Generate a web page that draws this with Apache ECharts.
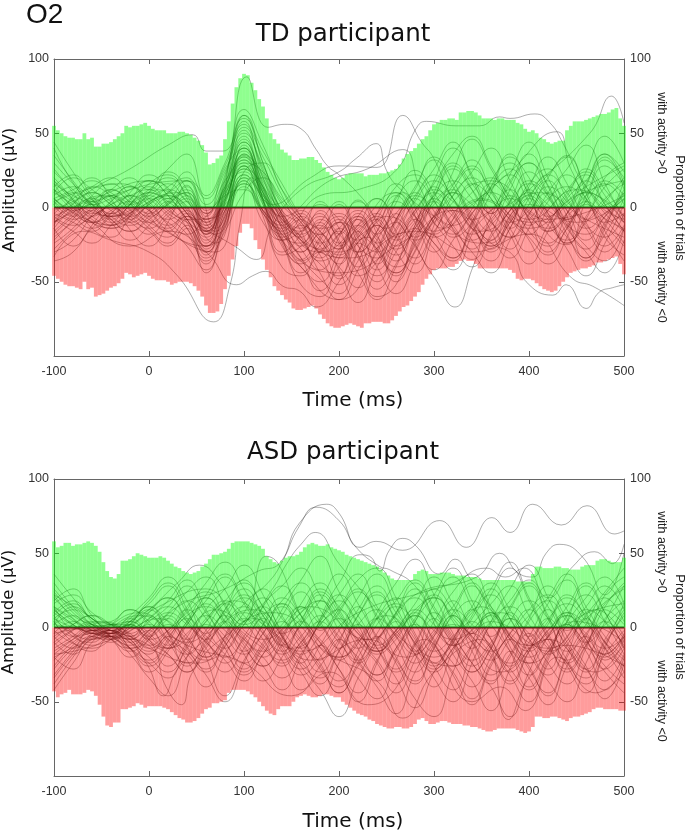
<!DOCTYPE html>
<html>
<head>
<meta charset="utf-8">
<style>
    html, body { margin: 0; padding: 0; background: #fff; }
    #main { width: 685px; height: 833px; }
</style>
</head>
<body>
<div id="main"></div>
<script src="https://cdn.jsdelivr.net/npm/echarts@6/dist/echarts.min.js"></script>
<script>
// bars: one value every 4 ms, from -100 to 500
var tdPos = [55,52,50,48,47,47,46,46,50,46,47,41,41,43,43,44,46,48,50,55,54,55,55,56,57,55,53,52,52,52,50,50,50,51,51,50,49,47,45,42,37,29,30,33,35,46,58,70,81,87,90,89,84,79,73,68,60,50,46,43,39,37,35,32,32,33,33,34,34,32,30,27,24,22,20,19,20,22,23,23,23,23,21,22,22,22,23,23,24,25,26,29,33,36,38,40,43,46,48,52,56,57,59,59,60,60,59,64,64,65,65,64,62,60,60,60,59,60,60,59,59,59,57,56,53,51,52,50,47,46,44,43,44,45,45,52,55,58,58,58,59,60,61,62,63,63,64,66,67,60,55];
var tdNeg = [-46,-48,-50,-52,-53,-53,-54,-55,-50,-55,-54,-60,-59,-58,-56,-54,-53,-51,-48,-44,-45,-47,-46,-45,-44,-46,-48,-49,-49,-49,-50,-52,-51,-50,-50,-50,-51,-53,-56,-60,-66,-71,-71,-70,-65,-55,-46,-35,-26,-17,-11,-11,-14,-22,-28,-35,-42,-47,-53,-56,-59,-62,-64,-68,-69,-69,-68,-67,-66,-68,-72,-75,-78,-80,-81,-81,-80,-79,-78,-79,-80,-81,-78,-78,-77,-77,-77,-78,-78,-76,-73,-70,-67,-66,-63,-60,-57,-52,-48,-45,-42,-41,-41,-41,-40,-40,-38,-36,-35,-36,-36,-38,-41,-41,-41,-41,-41,-41,-41,-41,-42,-44,-48,-49,-48,-48,-49,-51,-53,-55,-56,-57,-56,-53,-50,-47,-44,-43,-42,-41,-41,-40,-39,-37,-37,-36,-35,-34,-33,-38,-45];
var asdPos = [58,54,55,57,57,55,56,56,57,58,57,55,51,44,38,34,33,36,45,45,46,48,50,49,48,47,47,47,48,47,45,43,41,40,38,37,36,37,38,41,43,46,49,49,50,51,53,57,58,58,58,58,57,56,55,53,48,46,44,43,45,47,48,48,49,51,54,56,57,56,55,55,56,54,53,52,51,49,48,47,46,45,44,43,42,41,39,37,35,33,32,32,32,32,32,36,38,39,38,36,36,36,37,37,37,36,35,35,35,34,34,34,33,32,32,32,32,32,32,32,32,32,31,31,31,31,36,41,41,40,40,40,41,41,40,40,39,39,39,41,42,42,42,45,46,46,45,44,44,44,47];
var asdNeg = [-43,-47,-45,-44,-42,-45,-45,-45,-44,-42,-43,-46,-52,-60,-66,-67,-64,-64,-55,-55,-54,-53,-51,-52,-54,-53,-53,-53,-53,-54,-55,-57,-59,-61,-62,-64,-64,-63,-61,-58,-55,-54,-51,-51,-50,-49,-44,-42,-42,-42,-42,-43,-45,-47,-50,-53,-56,-58,-59,-55,-53,-53,-53,-50,-47,-46,-45,-46,-47,-47,-46,-45,-45,-46,-47,-47,-50,-52,-54,-56,-58,-59,-60,-62,-63,-65,-66,-67,-68,-68,-67,-67,-68,-68,-67,-65,-62,-61,-63,-65,-65,-64,-63,-63,-64,-65,-65,-65,-66,-66,-67,-67,-68,-69,-70,-70,-69,-68,-68,-68,-68,-68,-69,-70,-71,-70,-67,-60,-60,-61,-61,-60,-60,-61,-62,-63,-61,-60,-60,-59,-58,-57,-55,-54,-54,-55,-55,-55,-55,-56,-56];

// single trials read every 20 ms
var tdTrials = [
    [35,18,2,-8,5,18,8,-10,-32,12,48,14,-22,-38,-30,-48,-30,-8,14,22,5,-20,-10,18,30,8,-18,-25,5,28,15],
    [-30,-22,-5,12,3,-12,-20,-8,-28,2,35,22,-10,-28,-42,-20,5,-18,-50,-30,-5,15,32,12,-14,-30,-12,10,22,2,-16],
    [20,5,-14,-20,-6,10,24,12,-18,18,62,30,-5,-35,-20,2,-25,-55,-38,-12,18,40,22,-8,-28,-5,20,35,10,-20,-32],
    [-12,8,20,6,-15,-26,-10,15,-10,5,42,5,-30,-18,4,-14,-40,-22,3,25,10,-15,-35,-18,12,30,15,-12,-28,-10,12],
    [8,14,5,-6,-12,-4,6,-4,-22,6,30,8,-12,-30,-16,-6,-26,-34,-10,8,22,6,-14,-26,-6,16,26,6,-12,-20,-4],
    [-18,-6,4,-10,-22,-12,3,10,-14,10,52,26,-2,-12,-32,-52,-36,-12,-30,-44,-18,8,24,40,18,-8,-30,-14,8,32,20],
    [14,22,8,-4,6,14,2,-14,-38,-4,28,-6,-40,-46,-22,-8,-32,-60,-52,-20,4,-12,-28,-6,22,44,20,-6,-34,-18,6],
    [-8,-16,-24,-12,2,16,22,6,-24,14,56,34,8,-16,-36,-28,-6,6,-16,-38,-12,24,46,26,2,-22,-38,-20,14,36,24],
    [26,10,-6,4,14,4,-12,-26,-42,-8,22,2,-24,-52,-60,-34,-12,-28,-46,-24,6,28,12,-16,-34,-14,10,26,42,16,-8],
    [-4,6,14,20,8,-6,-16,-6,-16,16,46,12,-18,-24,-8,-22,-46,-36,-8,12,34,18,-8,-22,4,24,8,-18,-36,-14,18],
    [4,-6,-14,-4,10,22,12,-4,-20,8,38,18,-6,-20,-44,-62,-42,-16,8,-10,-30,-8,16,6,-18,-38,-16,6,18,34,12],
    [-24,-14,0,8,-2,-14,-24,-12,-30,-2,26,10,-14,-36,-26,-10,-18,-40,-58,-36,-8,10,-6,-24,-8,14,34,16,-10,-26,-12],
    [12,4,-4,2,8,12,6,14,-12,20,66,42,12,-8,-18,-10,-30,-16,6,18,4,-14,-30,-44,-22,2,18,-2,-22,-6,10],
    [-14,-26,-14,-4,-10,-18,-6,4,-18,12,44,16,-20,-44,-30,-16,-34,-50,-24,-2,16,36,48,28,6,-12,4,22,6,-16,-36],
    [6,12,18,10,2,8,16,4,-8,22,58,20,-8,-16,-2,-24,-44,-62,-40,-14,-28,-42,-18,10,34,20,-4,-24,-8,20,30],
    [-10,-2,6,-2,-10,-2,8,-2,-26,4,34,6,-26,-40,-50,-30,-8,-22,-36,-12,14,-2,-22,-36,-14,8,-6,-28,-46,-24,2],
    [44,24,6,-8,-16,-6,4,18,-6,26,40,2,-32,-26,-10,4,-20,-42,-20,6,26,44,20,-4,16,36,14,-10,-26,-36,-14],
    [-36,-30,-12,4,14,6,-6,-18,-36,-12,18,-2,-16,-34,-48,-58,-30,-4,16,2,-18,-34,-12,14,36,12,-16,-4,24,48,30],
    [2,-8,-2,8,2,-8,-14,-4,-14,6,30,24,4,-10,-24,-14,-2,-14,-28,-16,2,12,-4,-16,-2,10,2,-12,-18,-6,6],
    [16,8,2,-6,-2,6,12,4,-10,12,24,6,-8,-18,-12,-24,-14,-4,-18,-8,8,18,6,-10,-20,-8,6,14,4,-10,-4],
    [-6,-12,-6,2,8,2,-8,-2,-18,-2,20,-4,-14,-6,-20,-32,-20,-10,4,-6,-18,-4,10,20,8,-6,-14,-4,10,4,-10],
    [10,2,-8,-14,-6,4,10,18,2,24,50,28,2,-10,-28,-18,-4,-30,-44,-22,10,30,16,-2,-14,6,22,10,-8,4,20],
    [-2,4,10,2,-6,-14,-4,6,-8,2,16,-2,-20,-10,2,-8,-22,-12,-26,-14,6,-6,-18,-8,8,-4,-16,-6,8,16,2],
    [-22,-8,8,16,6,-4,4,-8,-26,-2,32,14,-4,-22,-38,-46,-24,-30,-14,6,-10,-26,-40,-20,-2,18,8,-14,-30,-44,-22],
    [6,-4,-10,-2,4,-2,-10,-18,-6,8,12,-2,-12,-4,-14,-10,4,-8,-20,-4,12,4,-8,-2,6,-2,-10,2,10,-2,-8],
    [30,16,4,12,20,12,26,36,8,30,60,38,16,-6,-22,-34,-16,-4,10,-6,-24,-36,-16,-2,12,-8,-24,-12,4,-8,-24],
    [18,6,-6,-12,2,12,20,8,-16,4,36,10,-10,-22,-34,-18,-6,-20,-32,-14,4,16,28,10,-8,-18,-2,12,24,8,-10],
    [-16,-4,10,4,-6,2,14,20,-2,14,44,20,-4,-14,-6,-18,-30,-18,-4,10,-6,-18,-4,12,22,4,-12,-22,-6,14,26],
    [24,12,2,6,12,18,8,-8,-26,-6,18,-10,-22,-12,-26,-40,-54,-28,-10,-22,-8,12,26,12,-6,-20,-32,-14,2,-12,-26],
    [-20,-10,-2,-12,-4,6,-4,-14,-34,-16,10,20,6,-8,-22,-38,-18,-6,-20,-34,-16,-2,-14,-26,-10,8,22,34,14,-4,-16],
    [10,20,12,2,-8,2,10,24,6,28,54,24,-2,-20,-10,-26,-12,6,-8,-26,-42,-22,-4,14,26,10,-6,8,26,12,-6],
    [-4,-10,-16,-6,2,8,-2,-10,-16,0,22,8,-6,-26,-14,-4,-16,-28,-44,-26,-6,8,20,6,-10,-2,14,4,-14,-30,-14],
    [6,-2,4,12,4,-6,2,10,-4,10,28,12,-10,-2,-16,-28,-16,-38,-20,-2,10,-4,-22,-12,4,16,6,-8,4,18,8],
    [-28,-16,-6,0,-8,-16,-26,-14,-44,-14,14,-4,-18,-30,-18,-42,-64,-40,-16,4,18,6,-12,-28,-10,6,-8,-24,-10,6,16],
    [12,-2,-10,-4,8,-2,-12,-6,-12,14,34,14,-14,-34,-56,-40,-20,-8,-22,-10,8,26,12,-4,18,30,10,-8,16,36,16],
    [2,10,2,-10,-4,10,4,-8,-30,-10,24,30,12,-6,-16,-28,-8,-24,-8,14,32,14,-10,-30,-14,12,-4,-20,-34,-12,10],
    [-10,2,14,8,-4,-10,-2,8,-16,8,40,10,-16,-8,-30,-14,-32,-46,-30,-8,-24,-34,-10,16,4,-16,-26,-4,18,2,-16],
    [4,-6,2,-8,-16,-8,2,12,-4,18,32,4,-22,-16,-4,-18,-6,-18,-4,-20,-6,10,2,-10,-20,-4,10,-2,-14,-4,8]
];
var asdTrials = [
    [-38,-20,-4,2,12,4,-10,-24,-12,6,20,8,-14,-28,-12,10,24,6,-20,-36,-14,10,28,8,-16,-40,-18,8,22,4,-18],
    [22,6,-4,-2,-10,-22,-8,14,24,8,-12,-26,-8,16,30,12,-10,-24,-44,-22,6,-12,-30,-14,12,28,6,-22,-34,-12,10],
    [-14,-6,2,-4,6,16,28,10,-8,-24,-6,14,28,8,-18,-36,-20,6,20,-4,-26,-42,-16,10,-6,-28,-44,-18,6,-10,-30],
    [10,18,4,-6,-14,-24,-34,-12,6,18,30,14,-6,-20,-38,-16,8,24,4,-16,4,24,36,14,-8,-24,-6,14,30,10,-14],
    [-26,-12,-4,-8,-16,-6,6,18,6,-14,-32,-18,4,-8,-24,-44,-26,-6,-24,-48,-60,-30,-4,-14,-32,-50,-22,2,-16,-36,-18],
    [30,14,2,-4,4,12,-4,-22,-40,-18,2,16,28,40,22,4,-14,2,18,32,14,-8,-26,-12,6,-14,-32,-12,8,24,40],
    [4,-10,-16,-6,-14,-4,10,24,34,14,-8,-20,-34,-18,2,14,32,40,20,-6,-24,-8,12,-8,-30,-14,4,22,6,-18,-6],
    [-8,2,8,2,-8,-18,-6,-18,-30,-10,10,26,8,-14,-30,-10,14,-8,-28,-10,10,-6,-24,-38,-16,-34,-52,-26,-6,-22,-12],
    [14,-4,-12,-4,4,-8,-26,-10,12,26,42,22,-4,-24,-12,-28,-44,-22,-2,16,34,16,-4,22,40,18,-8,-30,-12,14,30],
    [-20,-28,-10,-2,-6,10,20,4,-14,-30,-14,6,-12,-30,-46,-24,2,-14,-34,-54,-30,-8,14,30,12,-6,16,32,10,-14,-34],
    [6,12,2,-4,2,-10,-18,-30,-14,4,-10,-26,-42,-20,4,22,8,-14,-30,-12,16,34,14,-8,-26,-6,12,-10,-28,-42,-20],
    [-6,-14,-6,-2,-14,-26,-14,2,16,2,-16,2,18,30,12,-8,-24,-8,10,26,6,-18,-36,-56,-28,-4,-24,-38,-14,12,2],
    [18,26,8,-2,8,20,34,18,-4,12,26,8,-12,2,18,36,16,-6,-22,-38,-14,8,-10,-32,-18,6,28,12,-8,-26,-38],
    [-32,-16,-2,-6,-18,-34,-46,-20,2,-10,-28,-12,8,24,4,-16,-34,-48,-22,4,22,40,18,-6,14,30,8,-16,-4,16,26],
    [2,8,-2,-6,-12,-2,8,-6,-20,-8,6,-4,-18,-6,8,-6,-20,-32,-16,2,-12,-26,-12,4,14,2,-14,-24,-10,4,-8],
    [12,2,-6,-8,2,14,4,-8,4,16,4,-12,-22,-10,6,18,4,-12,-2,12,20,6,-10,-22,-8,8,18,4,-10,2,14],
    [-12,-2,4,-2,-8,-2,-14,-4,8,-2,-14,-26,-12,4,-8,-20,-10,6,16,2,-16,-6,10,22,6,-12,-4,8,-6,-18,-4],
    [36,20,6,2,-4,-14,-4,12,30,44,26,4,-16,-32,-20,-2,20,36,14,-12,-34,-50,-24,4,26,42,20,-6,-26,-48,-24],
    [-42,-24,-8,-6,4,18,30,12,-20,-46,-22,-4,14,-6,-28,-40,-16,10,30,46,22,-4,-24,-40,-60,-30,-8,-26,-44,-14,16],
    [8,-6,-10,-2,-14,-30,-16,4,20,4,-18,-36,-20,2,18,-2,-22,-40,-58,-30,-10,8,-16,-36,-20,4,20,36,14,-6,-20],
    [-18,-8,2,4,12,2,-12,4,18,34,16,-4,-22,-42,-26,-8,12,28,10,-8,-28,-14,6,26,44,20,-4,-22,-6,22,34],
    [20,8,2,-2,-8,6,18,32,12,-10,-24,-10,12,32,48,24,2,-18,-8,10,-10,-32,-52,-26,-8,-26,-46,-20,2,20,4],
    [-4,4,-2,-4,2,-6,2,-8,-20,-6,10,2,-8,-18,-6,6,-4,-16,-6,8,-2,-12,-4,8,-4,-14,-2,10,2,-10,-22],
    [24,10,0,-8,-20,-8,6,-14,-32,-50,-24,2,20,8,-10,-28,-50,-24,4,-18,-40,-16,8,26,6,-18,-36,-50,-24,4,28],
    [-28,-14,-6,-10,2,14,-4,-26,-8,12,32,14,-6,-26,-42,-60,-34,-10,10,30,12,-10,-30,-14,10,-8,-28,4,28,10,-14],
    [2,14,6,-2,6,-4,-14,2,22,36,18,-2,-16,4,24,10,-14,-32,-14,4,26,12,-6,-20,-38,-16,6,-14,-30,-8,12],
    [14,6,-2,2,-6,-16,-6,8,14,4,-8,-16,-4,10,18,6,-8,-16,-4,10,20,8,-6,-16,-4,12,22,6,-10,-20,-6],
    [-16,-8,-2,-4,-10,-2,10,2,-10,-20,-8,8,16,4,-10,-22,-8,6,-6,-18,-4,12,2,-12,-24,-10,6,16,4,-14,-26],
    [8,16,6,-2,-6,-12,-2,10,20,8,-4,-14,-24,-10,4,-10,-22,-8,8,20,6,-10,-22,-10,6,-4,-18,-6,12,4,-12],
    [-22,-10,-4,-8,-2,6,14,4,-8,4,14,2,-10,-24,-34,-16,2,12,-2,-18,-30,-14,2,16,28,8,-12,-28,-12,6,18],
    [26,12,2,-2,2,8,-8,-18,-4,10,22,10,-4,6,22,8,-8,-22,-38,-18,-2,14,30,12,-8,-20,-6,10,-8,-28,-14],
    [-10,-18,-8,-6,-14,-24,-10,6,-6,-18,-30,-14,2,14,-2,12,26,8,-12,-30,-12,8,18,2,-16,-32,-14,4,20,34,16],
    [6,-4,-8,-4,4,12,20,6,-10,-22,-36,-18,-2,10,26,14,-2,-16,-4,8,-8,-24,-40,-20,4,18,6,-12,-28,-10,8],
    [16,22,10,2,-4,2,-8,-16,-28,-12,4,20,6,-10,-26,-44,-24,-4,14,4,-14,-30,-48,-24,-4,12,-6,-24,-38,-18,-2],
    [-6,2,8,2,4,-6,-18,-30,-10,8,-6,-20,-6,14,2,-14,8,22,6,-10,-26,-10,4,-14,-28,-42,-20,2,-12,-30,-44],
    [4,-6,-2,2,-6,4,14,28,10,-6,-18,-4,16,-4,-22,-8,-24,-36,-14,6,22,4,-14,2,18,32,14,-2,14,28,12],
    [-34,-18,-6,-4,-10,-20,-30,-14,4,18,8,-8,-26,-12,4,22,36,14,-6,-24,-6,18,-2,-18,-36,-16,2,20,8,-10,-26],
    [12,2,-4,-6,2,-8,-2,12,-2,-14,2,14,-2,-14,2,12,-4,-14,-2,12,2,-12,-2,10,-6,-16,-2,8,-4,-14,-6]
];

// trials that leave the envelope: time, value, time, value ...
var tdExtremes = [
    [-100,40,-70,8,-40,-6,0,10,40,-8,72,-6,84,30,103,88,125,54,143,56,160,53,176,39,188,28,200,22,225,6,250,-14,280,8,320,-12,360,10,400,-8,450,12,500,-6],
    [-100,-8,-60,12,-20,26,20,42,46,49,60,38,78,38,100,62,120,30,145,-10,180,-30,220,-12,260,10,300,-20,350,5,400,-14,450,8,500,18],
    [-100,-33,-70,-16,-40,-22,0,-30,30,-46,68,-77,85,-53,96,-10,108,20,130,-10,160,-40,200,-62,240,-30,268,10,300,-16,350,6,400,-10,460,14,500,28],
    [-100,12,-60,-10,-20,-26,20,-16,60,-30,92,-52,109,-46,123,-43,141,-53,158,-56,176,-67,200,-50,230,-20,260,-40,300,-10,360,18,420,-8,500,8],
    [-100,-6,-50,8,0,18,50,-10,90,-26,113,-35,130,-12,160,12,200,24,218,33,239,43,250,25,262,14,300,-6,350,-24,400,2,450,-10,500,6],
    [-100,6,-40,-12,10,12,70,-18,100,28,130,2,170,20,200,28,240,27,267,62,288,43,299,34,320,6,350,-16,410,10,460,-8,500,-20],
    [-100,-14,-50,8,0,-10,60,-26,100,16,140,-18,180,8,220,12,260,25,281,53,292,58,323,55,348,55,369,61,380,60,406,63,422,57,436,43,460,14,500,-10],
    [-100,18,-40,-6,30,10,70,-16,100,40,140,-6,190,18,230,26,267,39,285,14,310,-14,340,2,380,24,429,51,444,26,470,-2,500,-14],
    [-100,4,-30,16,20,-16,70,-30,100,20,140,-12,200,-30,250,-6,299,-46,322,-67,341,-40,360,-10,400,12,464,50,487,75,500,57],
    [-100,-10,-30,10,40,18,70,-14,100,36,140,-22,200,-44,270,-22,320,-2,360,-24,383,-32,397,-50,425,-59,439,-52,460,-68,474,-57,488,-54,500,-52],
    [-100,16,-40,-14,20,8,70,-24,100,26,150,-14,210,-34,280,-16,340,-30,400,-18,446,-48,467,-53,500,-66]
];
var asdExtremes = [
    [-100,22,-60,6,-20,-14,30,14,80,26,115,38,137,43,158,70,187,83,200,77,222,54,239,58,267,52,306,72,334,54,361,74,380,64,404,83,434,69,461,82,490,63,500,65],
    [-100,-10,-50,4,0,-14,50,-24,100,16,125,30,140,44,158,68,176,81,200,72,218,54,243,41,253,39,280,28,320,-8,370,10,420,-16,460,6,500,28],
    [-100,14,-40,-4,10,14,60,26,100,2,130,26,145,43,160,56,175,64,200,43,230,20,270,-10,320,-26,360,4,420,-14,470,12,500,-6],
    [-100,-18,-40,-8,0,12,30,30,53,42,75,30,100,4,123,48,136,43,160,8,200,-20,250,8,300,-20,350,14,400,-24,450,6,500,16],
    [-100,6,-60,-2,-10,10,40,-10,90,18,150,-14,200,30,222,49,232,48,243,38,253,52,267,60,281,55,306,36,322,46,337,34,360,14,400,-12,450,4,500,-10],
    [-100,-4,-30,2,20,-14,70,12,120,-8,170,14,230,-8,280,22,345,34,369,50,390,36,404,34,418,50,432,56,457,47,480,22,500,50],
    [-100,10,-40,-6,10,6,60,-22,110,6,160,-16,220,10,290,24,320,30,355,40,375,34,395,40,420,20,446,41,469,51,488,43,500,56],
    [-100,-2,-60,-14,-30,-6,-3,-24,15,-46,30,-28,60,-8,110,12,170,-22,230,-8,270,-20,320,2,370,-30,420,-8,470,-30,500,-8],
    [-100,2,-40,-6,0,-12,18,-40,34,-52,46,-30,80,-6,130,10,190,-18,240,-36,267,-61,300,-30,350,-8,378,-62,400,-34,440,-12,500,-26],
    [-100,-20,-50,-4,-10,8,40,-12,100,-24,150,-46,190,-30,230,-52,256,-44,290,-8,340,-50,370,-40,396,-56,430,-20,470,-44,500,-30]
];

var zeroLine = [[-100, 0], [500, 0]];
var trialTimes = [];
for (var t = -100; t <= 500; t += 20) trialTimes.push(t);

function pairBars(values) {
    return values.map(function (v, i) { return [-100 + i * 4, v]; });
}
function pairTrial(values) {
    return values.map(function (v, i) { return [trialTimes[i], v]; });
}
function pairExtreme(flat) {
    var out = [];
    for (var i = 0; i < flat.length; i += 2) out.push([flat[i], flat[i + 1]]);
    return out;
}

var tickFont = { color: '#333', fontFamily: 'Liberation Sans', fontSize: 12.5 };
var axisStyle = { onZero: false, lineStyle: { color: '#666', width: 1 } };
var tickStyle = { inside: true, length: 5, lineStyle: { color: '#666', width: 1 } };

function yLabel(v) { return v === -100 ? '' : String(v); }

function makeAxes(n) {
    // bottom and left carry the labels, top and right close the frame
    var xAxes = [
        {
            gridIndex: n, type: 'value', min: -100, max: 500, interval: 100, position: 'bottom', containShape: false,
            axisLine: axisStyle, axisTick: tickStyle, splitLine: { show: false },
            axisLabel: Object.assign({ margin: 9, showMinLabel: true, showMaxLabel: true }, tickFont)
        },
        {
            gridIndex: n, type: 'value', min: -100, max: 500, interval: 100, position: 'top', containShape: false,
            axisLine: axisStyle, axisTick: tickStyle, splitLine: { show: false }, axisLabel: { show: false }
        }
    ];
    var yAxes = [
        {
            gridIndex: n, type: 'value', min: -100, max: 100, interval: 50, position: 'left',
            axisLine: axisStyle, axisTick: tickStyle, splitLine: { show: false },
            axisLabel: Object.assign({ margin: 5, formatter: yLabel }, tickFont)
        },
        {
            gridIndex: n, type: 'value', min: -100, max: 100, interval: 50, position: 'right',
            axisLine: axisStyle, axisTick: tickStyle, splitLine: { show: false },
            axisLabel: Object.assign({ margin: 6, formatter: yLabel }, tickFont)
        }
    ];
    return { x: xAxes, y: yAxes };
}

function makeSeries(n, pos, neg, trials, extremes) {
    var xi = n * 2, yi = n * 2;
    var list = [];
    // the lines sit under the see-through bars, that is what tints them green and red
    var lines = trials.map(pairTrial).concat(extremes.map(pairExtreme));
    lines.forEach(function (d) {
        list.push({
            type: 'line', xAxisIndex: xi, yAxisIndex: yi, data: d, smooth: 0.5, showSymbol: false, silent: true, z: 1,
            lineStyle: { color: 'rgba(40,40,40,0.42)', width: 0.9 }
        });
    });
    list.push({
        type: 'line', xAxisIndex: xi, yAxisIndex: yi, data: zeroLine, showSymbol: false, silent: true, z: 1,
        lineStyle: { color: '#222', width: 2 }
    });
    list.push({
        type: 'bar', xAxisIndex: xi, yAxisIndex: yi, data: pairBars(pos), barWidth: 3.8, barGap: '-100%',
        itemStyle: { color: 'rgba(0,255,0,0.44)' }, silent: true, z: 2
    });
    list.push({
        type: 'bar', xAxisIndex: xi, yAxisIndex: yi, data: pairBars(neg), barWidth: 3.8, barGap: '-100%',
        itemStyle: { color: 'rgba(255,0,0,0.39)' }, silent: true, z: 2
    });
    return list;
}

function sideText(text, x, y, size, family, color, rotation) {
    return {
        type: 'text', x: x, y: y, rotation: rotation, silent: true,
        style: { text: text, fill: color, font: size + 'px "' + family + '"', align: 'center', verticalAlign: 'middle' }
    };
}

var top0 = makeAxes(0), top1 = makeAxes(1);
var CW = -Math.PI / 2, CCW = Math.PI / 2;

var chart = echarts.init(document.getElementById('main'), null, { renderer: 'canvas' });
chart.setOption({
    animation: false,
    backgroundColor: '#fff',
    title: [
        { text: 'O2', left: 21, top: -4, textStyle: { fontFamily: 'Liberation Sans', fontSize: 28, fontWeight: 'normal', color: '#111' } },
        { text: 'TD participant', left: 338, textAlign: 'center', top: 17, textStyle: { fontFamily: 'DejaVu Sans', fontSize: 24.5, fontWeight: 'normal', color: '#111' } },
        { text: 'ASD participant', left: 338, textAlign: 'center', top: 435, textStyle: { fontFamily: 'DejaVu Sans', fontSize: 24.5, fontWeight: 'normal', color: '#111' } }
    ],
    grid: [
        { left: 54, top: 59, width: 570, height: 297, outerBoundsMode: 'none' },
        { left: 54, top: 479, width: 570, height: 297, outerBoundsMode: 'none' }
    ],
    xAxis: top0.x.concat(top1.x),
    yAxis: top0.y.concat(top1.y),
    series: makeSeries(0, tdPos, tdNeg, tdTrials, tdExtremes).concat(makeSeries(1, asdPos, asdNeg, asdTrials, asdExtremes)),
    graphic: [
        sideText('Amplitude (µV)', 10, 190, 16.5, 'DejaVu Sans', '#111', CCW),
        sideText('Amplitude (µV)', 9, 612, 16.5, 'DejaVu Sans', '#111', CCW),
        sideText('Time (ms)', 353, 401, 20, 'DejaVu Sans', '#111', 0),
        sideText('Time (ms)', 353, 822, 20, 'DejaVu Sans', '#111', 0),
        sideText('Proportion of trials', 680, 208, 13, 'Liberation Sans', '#222', CW),
        sideText('with activity >0', 661, 133, 12.5, 'Liberation Sans', '#222', CW),
        sideText('with activity <0', 661, 282, 12.5, 'Liberation Sans', '#222', CW),
        sideText('Proportion of trials', 680, 627, 13, 'Liberation Sans', '#222', CW),
        sideText('with activity >0', 661, 552, 12.5, 'Liberation Sans', '#222', CW),
        sideText('with activity <0', 661, 701, 12.5, 'Liberation Sans', '#222', CW)
    ]
});
</script>
</body>
</html>
